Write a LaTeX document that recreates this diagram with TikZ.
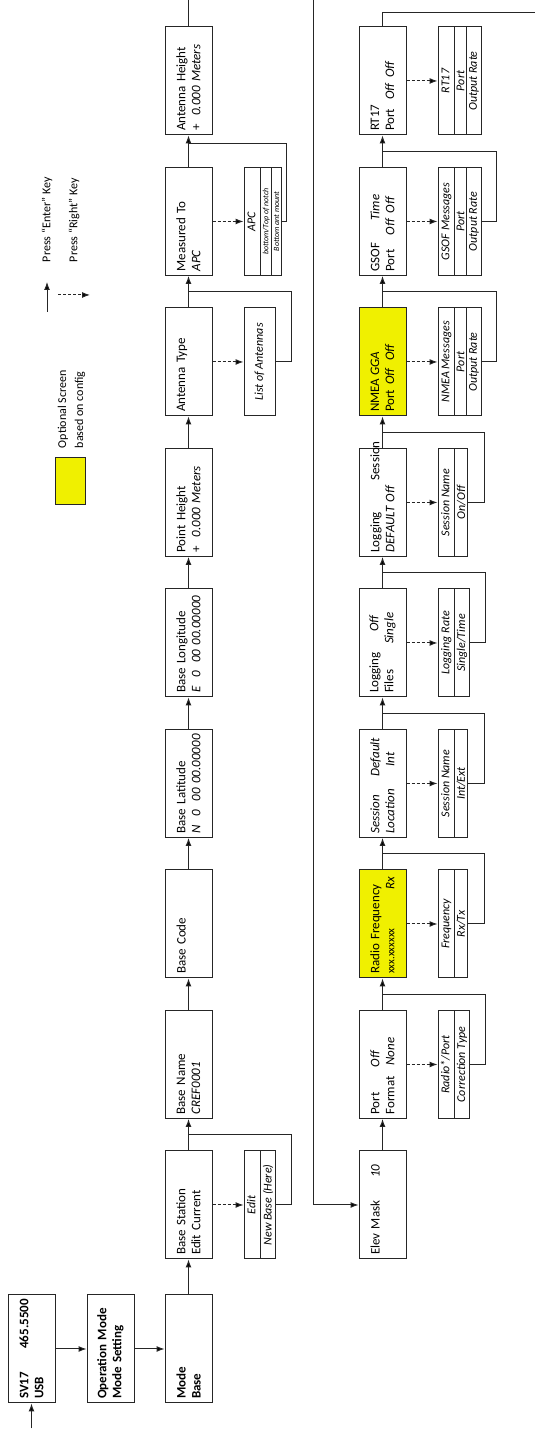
\documentclass[tikz,border=0pt]{standalone}
\usepackage{fontspec}
\setmainfont{Carlito}
\usetikzlibrary{arrows.meta,positioning,shapes.multipart,calc}
\definecolor{optional}{RGB}{240,240,0}
\newcommand{\fld}[2]{\makebox[#1][l]{#2}}

\begin{document}
\begin{tikzpicture}[x=1pt,y=1pt,rotate=90,transform shape,
    line width=1pt,draw=black!85,>={Latex[length=8pt,width=6pt]},
    font=\fontsize{13}{15}\selectfont]
\tikzstyle{screen} = [draw, rectangle, minimum width=108pt, minimum height=47pt, text width=100pt, inner xsep=4pt, align=left]
\tikzstyle{first} = [screen, font=\fontsize{13}{15}\selectfont\bfseries]
\tikzstyle{option} = [screen, fill=optional]
\tikzstyle{list} = [draw, rectangle split, rectangle split parts=2, minimum width=108pt, text height=9pt, text depth=3pt, inner ysep=1.75pt, font=\fontsize{12}{14}\selectfont\itshape]
\tikzstyle{single} = [draw, rectangle, minimum width=108pt, minimum height=31pt, font=\fontsize{12}{14}\selectfont\itshape]
\tikzstyle{rightkey} = [->, dash pattern=on 3pt off 2pt]
\useasboundingbox (0,0) rectangle (1431,-535);

% start
\node[first] (sv) at (82,-31.5) {SV17\hfill 465.5500\\USB};
\node[first, below=31pt of sv] (opmode) {Operation Mode\\Mode Setting};
\node[first, below=30pt of opmode] (mode) {Mode\\Base};

% base setup
\node[screen, right=35pt of mode] (basestation) {Base Station\\Edit Current};
\node[screen, right=31.5pt of basestation] (basename) {Base Name\\\textit{CREF0001}};
\node[screen, right=31.5pt of basename] (basecode) {Base Code\\\mbox{}};
\node[screen, right=31.5pt of basecode] (baselat) {Base Latitude\\\textit{N\ \ 0\ \ 00 00.00000}};
\node[screen, right=31.5pt of baselat] (baselon) {Base Longitude\\\textit{E\ \ 0\ \ 00 00.00000}};
\node[screen, right=31.5pt of baselon] (pointheight) {Point Height\\+\ \ \textit{0.000 Meters}};
\node[screen, right=31.5pt of pointheight] (anttype) {Antenna Type\\\mbox{}};
\node[screen, right=31.5pt of anttype] (measured) {Measured To\\\textit{APC}};
\node[screen, right=31.5pt of measured] (antheight) {Antenna Height\\+\ \ \textit{0.000 Meters}};

\node[list, below=31pt of basestation] (editlist) {Edit\nodepart{two}New Base (Here)};
\node[single, below=31pt of anttype] (antlist) {List of Antennas};
\node[list, rectangle split parts=3, below=31pt of measured] (apclist) {APC\nodepart{two}{\fontsize{8}{9}\selectfont bottom/Top of notch}\nodepart{three}{\fontsize{8}{9}\selectfont Bottom ant mount}};

% rover / output setup
\node[screen, below=146pt of basestation] (elevmask) {\fld{77pt}{Elev Mask}\textit{10}\\\mbox{}};
\node[screen, right=31.5pt of elevmask] (portformat) {\fld{47pt}{Port}\textit{Off}\\\fld{49pt}{Format}\textit{None}};
\node[option, right=31.5pt of portformat] (radiofreq) {Radio Frequency\\\fld{84pt}{\fontsize{11}{15}\selectfont xxx.xxxxxx}\textit{Rx}};
\node[screen, right=31.5pt of radiofreq] (session) {\fld{57pt}{\textit{Session}}\textit{Default}\\\fld{67pt}{\textit{Location}}\textit{Int}};
\node[screen, right=31.5pt of session] (logfiles) {\fld{61pt}{Logging}\textit{Off}\\\fld{49pt}{Files}\textit{Single}};
\node[screen, right=31.5pt of logfiles] (logsession) {\fld{72pt}{Logging}Session\\\fld{50pt}{\textit{DEFAULT}}\textit{Off}};
\node[option, right=31.5pt of logsession] (nmea) {\fld{36pt}{NMEA}\textit{GGA}\\\fld{27pt}{Port}\fld{24pt}{\textit{Off}}\textit{Off}};
\node[screen, right=31.5pt of nmea] (gsof) {\fld{51pt}{GSOF}\textit{Time}\\\fld{36pt}{Port}\fld{22pt}{\textit{Off}}\textit{Off}};
\node[screen, right=31.5pt of gsof] (rt17) {RT17\\\fld{31pt}{Port}\fld{22pt}{\textit{Off}}\textit{Off}};

\node[list, below=31pt of portformat] (portlist) {Radio*/Port\nodepart{two}Correction Type};
\node[list, below=31pt of radiofreq] (freqlist) {Frequency\nodepart{two}Rx/Tx};
\node[list, below=31pt of session] (sessionlist) {Session Name\nodepart{two}Int/Ext};
\node[list, below=31pt of logfiles] (loglist) {Logging Rate\nodepart{two}Single/Time};
\node[list, below=31pt of logsession] (namelist) {Session Name\nodepart{two}On/Off};
\node[list, rectangle split parts=3, below=31pt of nmea] (nmealist) {NMEA Messages\nodepart{two}Port\nodepart{three}Output Rate};
\node[list, rectangle split parts=3, below=31pt of gsof] (gsoflist) {GSOF Messages\nodepart{two}Port\nodepart{three}Output Rate};
\node[list, rectangle split parts=3, below=31pt of rt17] (rt17list) {RT17\nodepart{two}Port\nodepart{three}Output Rate};

% legend
\node[draw, fill=optional, inner sep=0pt, minimum width=47pt, minimum height=30pt] (optbox) at (949.5,-70) {};
\node[anchor=west, align=left, font=\fontsize{12}{17}\selectfont] (optnote) at (979,-71.5) {Optional Screen\\based on config};
\coordinate (enterfrom) at (1119,-47);
\coordinate (enterto) at (1149,-47);
\coordinate (rightfrom) at (1136,-58);
\coordinate (rightto) at (1136,-90);
\draw[->] (enterfrom) -- (enterto);
\draw[rightkey] (rightfrom) -- (rightto);
\node[anchor=west, font=\fontsize{12}{14}\selectfont] (enterkey) at (1165,-47) {Press ``Enter'' Key};
\node[anchor=west, font=\fontsize{12}{14}\selectfont] (rightkeytext) at (1165,-74) {Press ``Right'' Key};

% connectors
\coordinate (rt17end) at (1418,-535);
\draw[->] ([xshift=-25pt]sv.west) -- (sv.west);
\draw[->] (sv.south) -- (opmode.north);
\draw[->] (opmode.south) -- (mode.north);
\foreach \a/\b in {mode/basestation, basestation/basename, basename/basecode, basecode/baselat,
    baselat/baselon, baselon/pointheight, pointheight/anttype, anttype/measured, measured/antheight,
    elevmask/portformat, portformat/radiofreq, radiofreq/session, session/logfiles,
    logfiles/logsession, logsession/nmea, nmea/gsof, gsof/rt17}
  \draw[->] (\a.east) -- (\b.west);
\foreach \a/\b in {basestation/editlist, anttype/antlist, measured/apclist, portformat/portlist,
    radiofreq/freqlist, session/sessionlist, logfiles/loglist, logsession/namelist,
    nmea/nmealist, gsof/gsoflist, rt17/rt17list}
  \draw[rightkey] (\a.south) -- (\b.north);
\foreach \l/\a/\b/\d in {editlist/basestation/basename/16, antlist/anttype/measured/16,
    portlist/portformat/radiofreq/16, freqlist/radiofreq/session/16, sessionlist/session/logfiles/16,
    loglist/logfiles/logsession/16, namelist/logsession/nmea/16, nmealist/nmea/gsof/15,
    gsoflist/gsof/rt17/15}
  \draw (\l.south) -- ++(0,-\d) -| ($(\a.east)!.5!(\b.west)$);
\draw (apclist.south) -- ++(0,-4) -| ($(measured.east)!.75!(antheight.west)$);
\draw[->] (antheight.east) -- ++(27,0) -- ++(0,-125) -| (elevmask.north);
\draw (rt17.east) -| (rt17end);
\end{tikzpicture}
\end{document}
